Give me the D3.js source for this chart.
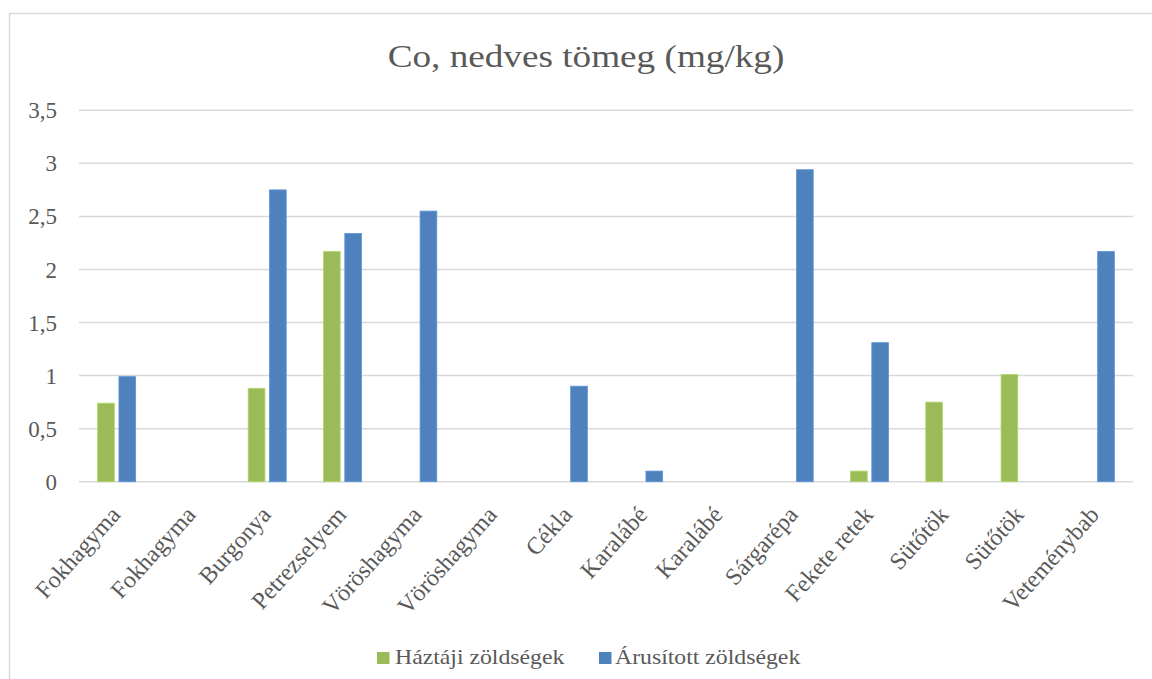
<!DOCTYPE html>
<html><head><meta charset="utf-8">
<script src="https://cdn.jsdelivr.net/npm/d3@7"></script>
<style>html,body{margin:0;padding:0;background:#fff;}</style>
</head><body>
<script>
const categories = ["Fokhagyma","Fokhagyma","Burgonya","Petrezselyem","Vöröshagyma","Vöröshagyma","Cékla","Karalábé","Karalábé","Sárgarépa","Fekete retek","Sütőtök","Sütőtök","Veteménybab"];
const seriesNames = ["Háztáji zöldségek","Árusított zöldségek"];
const hazTaji = [0.74, null, 0.88, 2.17, null, null, null, null, null, null, 0.10, 0.75, 1.01, null];
const arusitott = [0.99, null, 2.75, 2.34, 2.55, null, 0.90, 0.10, null, 2.94, 1.31, null, null, 2.17];
const yTicks = [0, 0.5, 1, 1.5, 2, 2.5, 3, 3.5];
const yTickLabels = ["0","0,5","1","1,5","2","2,5","3","3,5"];
const colors = ["#9BBB59","#4F81BD"];
const chartTitle = "Co, nedves tömeg (mg/kg)";

(function () {
const W = 1152, H = 679;
const font = "Liberation Serif";
const textColor = "#595959";
const svg = d3.select("body").append("svg").attr("width", W).attr("height", H);

svg.append("rect").attr("x", 9.5).attr("y", 13.5).attr("width", W + 20).attr("height", H + 20)
  .attr("fill", "#fff").attr("stroke", "#d9d9d9").attr("stroke-width", 1.5);

const pLeft = 79, pRight = 1133, pTop = 110.3, pBottom = 481.7;
const x = d3.scaleBand().domain(d3.range(categories.length)).range([pLeft, pRight]).paddingInner(0).paddingOuter(0);
const y = d3.scaleLinear().domain([0, 3.5]).range([pBottom, pTop]);
const groupW = x.bandwidth() * 0.505;
const xs = d3.scaleBand().domain([0, 1]).range([-groupW / 2, groupW / 2]).paddingInner(0.216).paddingOuter(0);

svg.append("g").selectAll("line").data(yTicks).join("line")
  .attr("x1", pLeft).attr("x2", pRight)
  .attr("y1", d => y(d)).attr("y2", d => y(d))
  .attr("stroke", "#d9d9d9").attr("stroke-width", 1.5);

svg.append("g").selectAll("text").data(yTicks).join("text")
  .attr("x", 57).attr("y", d => y(d)).attr("dy", "0.35em")
  .attr("text-anchor", "end").style("font-family", font).style("font-size", "23px")
  .attr("fill", textColor).text((d, i) => yTickLabels[i]);

const seriesData = [hazTaji, arusitott];
seriesData.forEach((vals, si) => {
  svg.append("g").selectAll("rect")
    .data(vals.map((v, i) => ({ v, i })).filter(d => d.v !== null))
    .join("rect")
    .attr("x", d => x(d.i) + x.bandwidth() / 2 + xs(si))
    .attr("width", xs.bandwidth())
    .attr("y", d => y(d.v))
    .attr("height", d => y(0) - y(d.v))
    .attr("fill", colors[si])
    .attr("stroke", d3.color(colors[si]).brighter(0.4))
    .attr("stroke-width", 0.8);
});

svg.append("g").selectAll("text").data(categories).join("text")
  .attr("transform", (d, i) => `translate(${x(i) + x.bandwidth() / 2 + 5},${pBottom + 34}) rotate(-48)`)
  .attr("text-anchor", "end").style("font-family", font).style("font-size", "24px")
  .attr("fill", textColor).text(d => d);

svg.append("text").attr("transform", "translate(586,67) scale(1.2,1)").attr("text-anchor", "middle")
  .style("font-family", font).style("font-size", "31px").attr("fill", textColor).text(chartTitle);

const legendItems = [{ x: 377, tx: 395 }, { x: 599, tx: 615 }];
legendItems.forEach((li, i) => {
  svg.append("rect").attr("x", li.x).attr("y", 652).attr("width", 12.5).attr("height", 12).attr("fill", colors[i]);
  svg.append("text").attr("transform", `translate(${li.tx},664) scale(1.08,1)`)
    .style("font-family", font).style("font-size", "22px")
    .attr("fill", textColor).text(seriesNames[i]);
});
})();
</script>
</body></html>
